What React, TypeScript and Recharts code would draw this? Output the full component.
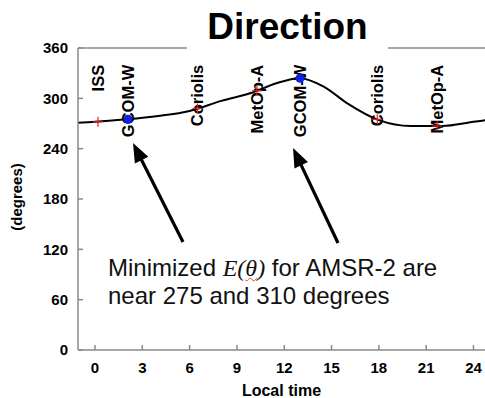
import {
  ComposedChart,
  Line,
  ReferenceLine,
  Scatter,
  XAxis,
  YAxis,
} from "recharts";

// smooth fitted direction curve (local time in hours, degrees)
const curveHours = [-1.1, 0, 2, 4, 6, 8, 10, 11.5, 13, 14.5, 16, 18, 20, 22, 24, 24.8];
const curveDeg = [271, 272, 275, 279, 285, 297, 307, 318, 324, 314, 294, 274, 267, 267, 272, 274];

// satellite overpass times
const satNames = ["ISS", "GCOM-W", "Coriolis", "MetOp-A", "GCOM-W", "Coriolis", "MetOp-A"];
const satHours = [0.19, 2.09, 6.5, 10.27, 13.0, 17.9, 21.7];
const satDeg = [272, 275, 288, 309, 324, 275, 267];
const satColor = ["red", "blue", "red", "red", "blue", "red", "red"];
const LABEL_TOP = 340;

const xTicks = [0, 3, 6, 9, 12, 15, 18, 21, 24];
const yTicks = [0, 60, 120, 180, 240, 300, 360];

// annotation arrows: [tail, tip] in data units
const arrows = [
  [{ x: 5.58, y: 128.7 }, { x: 2.41, y: 246.7 }],
  [{ x: 15.41, y: 127.5 }, { x: 12.56, y: 240.8 }],
];

const curve = curveHours.map((h, i) => ({ hour: h, deg: curveDeg[i] }));
const sats = satNames.map((n, i) => ({
  name: n,
  hour: satHours[i],
  deg: satDeg[i],
  labelY: LABEL_TOP,
  color: satColor[i],
}));

const FONT = "'Liberation Sans', Arial, sans-serif";
const AXIS = "#8a8a8a";

function SatLabel(p: any) {
  const { cx, cy, payload } = p;
  return (
    <text
      x={cx}
      y={cy}
      dy="0.36em"
      transform={`rotate(-90 ${cx} ${cy})`}
      textAnchor="end"
      fontFamily={FONT}
      fontWeight="bold"
      fontSize={16.5}
      fill="#000"
    >
      {payload.name}
    </text>
  );
}

function SatMarker(p: any) {
  const { cx, cy, payload } = p;
  if (payload.color === "blue") {
    return <circle cx={cx} cy={cy} r={4.5} fill="#1020e0" />;
  }
  return (
    <g stroke="#e02020" strokeWidth={1.2}>
      <line x1={cx - 5} y1={cy} x2={cx + 5} y2={cy} />
      <line x1={cx} y1={cy - 5} x2={cx} y2={cy + 5} />
    </g>
  );
}

function Arrow(p: any) {
  const { x1, y1, x2, y2 } = p;
  const dx = x2 - x1;
  const dy = y2 - y1;
  const len = Math.sqrt(dx * dx + dy * dy);
  const ux = dx / len;
  const uy = dy / len;
  const head = 19;
  const half = 7.5;
  const bx = x2 - ux * head;
  const by = y2 - uy * head;
  return (
    <g>
      <line x1={x1} y1={y1} x2={bx + ux * 2} y2={by + uy * 2} stroke="#000" strokeWidth={3.2} />
      <polygon
        points={`${x2},${y2} ${bx - uy * half},${by + ux * half} ${bx + uy * half},${by - ux * half}`}
        fill="#000"
      />
    </g>
  );
}

export default function App() {
  return (
    <div style={{ position: "absolute", left: 0, top: 0, width: 485, height: 398, background: "#fff" }}>
      <ComposedChart width={485} height={398} margin={{ top: 48, right: 0, bottom: 0, left: 0 }}>
        <XAxis
          dataKey="hour"
          type="number"
          domain={[-1.078, 24.73]}
          allowDataOverflow
          ticks={xTicks}
          interval={0}
          height={48}
          stroke={AXIS}
          strokeWidth={1.5}
          tickSize={-5}
          tickMargin={17}
          tick={{ fill: "#000", fontFamily: FONT, fontWeight: "bold", fontSize: 15 }}
          label={{
            value: "Local time",
            position: "insideBottom",
            offset: 2,
            fill: "#000",
            fontFamily: FONT,
            fontWeight: "bold",
            fontSize: 16,
          }}
        />
        <YAxis
          type="number"
          domain={[0, 360]}
          ticks={yTicks}
          interval={0}
          width={78}
          stroke={AXIS}
          strokeWidth={1.5}
          tickSize={-5}
          tickMargin={15}
          tick={{ fill: "#000", fontFamily: FONT, fontWeight: "bold", fontSize: 15 }}
          label={{
            content: () => (
              <text
                x={16}
                y={197}
                transform="rotate(-90 16 197)"
                textAnchor="middle"
                dominantBaseline="central"
                fontFamily={FONT}
                fontWeight="bold"
                fontSize={15}
                fill="#000"
              >
                (degrees)
              </text>
            ),
          }}
        />
        <ReferenceLine y={360} stroke={AXIS} strokeWidth={1.5} ifOverflow="visible" />
        <Scatter data={sats} dataKey="labelY" shape={SatLabel} isAnimationActive={false} />
        <Line
          data={curve}
          dataKey="deg"
          type="monotone"
          stroke="#000"
          strokeWidth={2}
          dot={false}
          activeDot={false}
          isAnimationActive={false}
        />
        <Scatter data={sats} dataKey="deg" shape={SatMarker} isAnimationActive={false} />
        {arrows.map((seg, i) => (
          <ReferenceLine key={i} segment={seg} shape={Arrow} ifOverflow="visible" />
        ))}
      </ComposedChart>

      <div
        style={{
          position: "absolute",
          left: 187,
          top: 0,
          width: 201,
          height: 51,
          background: "#fff",
          fontFamily: FONT,
          fontWeight: "bold",
          fontSize: 37,
          lineHeight: "37px",
          paddingTop: 8,
          boxSizing: "border-box",
          textAlign: "center",
          color: "#000",
        }}
      >
        Direction
      </div>

      <div
        style={{
          position: "absolute",
          left: 108,
          top: 254,
          fontFamily: FONT,
          fontSize: 24,
          lineHeight: "28px",
          color: "#111",
          whiteSpace: "nowrap",
        }}
      >
        Minimized{" "}
        <span style={{ fontFamily: "'Liberation Serif', 'Times New Roman', serif", fontStyle: "italic" }}>
          E(
          <span style={{ textDecoration: "underline wavy #e04040", textDecorationThickness: 1 }}>θ</span>)
        </span>{" "}
        for AMSR-2 are
        <br />
        near 275 and 310 degrees
      </div>
    </div>
  );
}
